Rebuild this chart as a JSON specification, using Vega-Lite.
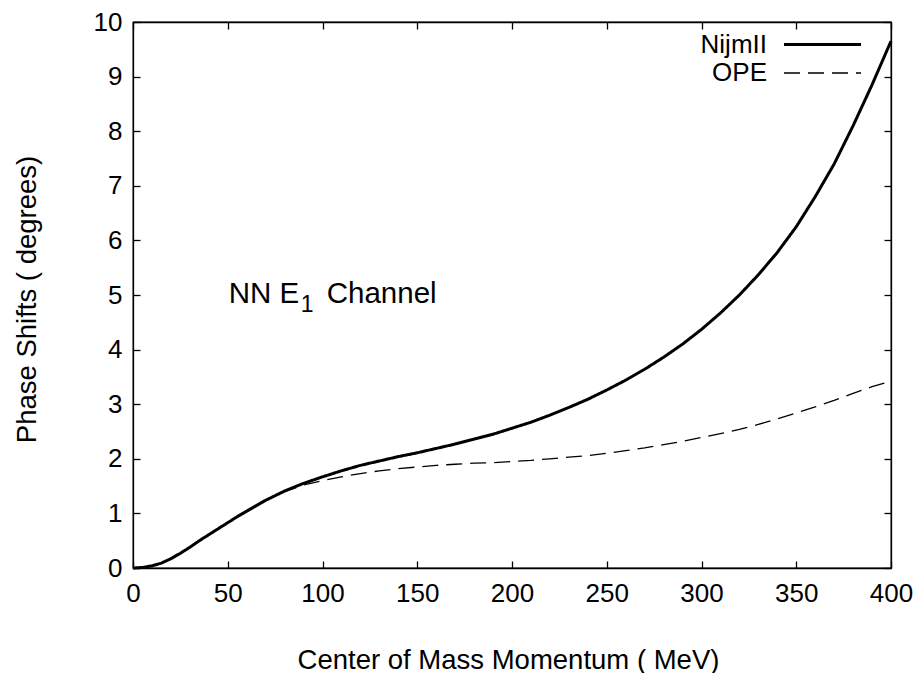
{
  "$schema": "https://vega.github.io/schema/vega-lite/v6.json",
  "width": 758,
  "height": 546,
  "autosize": "none",
  "padding": {"left": 133, "top": 22, "right": 32, "bottom": 105},
  "background": "white",
  "config": {
    "font": "Liberation Sans",
    "view": {"stroke": "black", "strokeWidth": 1.3},
    "axis": {
      "grid": false,
      "domainColor": "black",
      "domainWidth": 1.3,
      "tickColor": "black",
      "tickWidth": 1.3,
      "tickSize": -7,
      "labelColor": "black",
      "labelFont": "Liberation Sans",
      "labelFontSize": 26,
      "labelFlush": false,
      "titleColor": "black",
      "titleFont": "Liberation Sans",
      "titleFontSize": 27.5,
      "titleFontWeight": "normal"
    },
    "legend": {
      "orient": "none",
      "legendX": 674,
      "legendY": 7,
      "padding": 0,
      "rowPadding": 0,
      "symbolType": "M-2.75,0H2.75",
      "symbolSize": 784,
      "symbolStrokeColor": "black",
      "symbolFillColor": "transparent",
      "labelFont": "Liberation Sans",
      "labelFontSize": 26,
      "labelColor": "black",
      "labelAlign": "right",
      "labelOffset": -71,
      "title": null
    }
  },
  "datasets": {
    "curves": [
      {"p": 0, "delta": 0, "model": "NijmII"},
      {"p": 5, "delta": 0.01, "model": "NijmII"},
      {"p": 10, "delta": 0.04, "model": "NijmII"},
      {"p": 15, "delta": 0.09, "model": "NijmII"},
      {"p": 20, "delta": 0.17, "model": "NijmII"},
      {"p": 25, "delta": 0.27, "model": "NijmII"},
      {"p": 30, "delta": 0.38, "model": "NijmII"},
      {"p": 35, "delta": 0.5, "model": "NijmII"},
      {"p": 40, "delta": 0.61, "model": "NijmII"},
      {"p": 45, "delta": 0.72, "model": "NijmII"},
      {"p": 50, "delta": 0.83, "model": "NijmII"},
      {"p": 55, "delta": 0.94, "model": "NijmII"},
      {"p": 60, "delta": 1.04, "model": "NijmII"},
      {"p": 70, "delta": 1.24, "model": "NijmII"},
      {"p": 80, "delta": 1.41, "model": "NijmII"},
      {"p": 90, "delta": 1.55, "model": "NijmII"},
      {"p": 100, "delta": 1.67, "model": "NijmII"},
      {"p": 110, "delta": 1.78, "model": "NijmII"},
      {"p": 120, "delta": 1.88, "model": "NijmII"},
      {"p": 130, "delta": 1.96, "model": "NijmII"},
      {"p": 140, "delta": 2.04, "model": "NijmII"},
      {"p": 150, "delta": 2.11, "model": "NijmII"},
      {"p": 160, "delta": 2.19, "model": "NijmII"},
      {"p": 170, "delta": 2.27, "model": "NijmII"},
      {"p": 180, "delta": 2.36, "model": "NijmII"},
      {"p": 190, "delta": 2.45, "model": "NijmII"},
      {"p": 200, "delta": 2.56, "model": "NijmII"},
      {"p": 210, "delta": 2.67, "model": "NijmII"},
      {"p": 220, "delta": 2.8, "model": "NijmII"},
      {"p": 230, "delta": 2.94, "model": "NijmII"},
      {"p": 240, "delta": 3.09, "model": "NijmII"},
      {"p": 250, "delta": 3.26, "model": "NijmII"},
      {"p": 260, "delta": 3.44, "model": "NijmII"},
      {"p": 270, "delta": 3.64, "model": "NijmII"},
      {"p": 280, "delta": 3.86, "model": "NijmII"},
      {"p": 290, "delta": 4.1, "model": "NijmII"},
      {"p": 300, "delta": 4.37, "model": "NijmII"},
      {"p": 310, "delta": 4.67, "model": "NijmII"},
      {"p": 320, "delta": 5.0, "model": "NijmII"},
      {"p": 330, "delta": 5.37, "model": "NijmII"},
      {"p": 340, "delta": 5.78, "model": "NijmII"},
      {"p": 350, "delta": 6.25, "model": "NijmII"},
      {"p": 360, "delta": 6.8, "model": "NijmII"},
      {"p": 370, "delta": 7.4, "model": "NijmII"},
      {"p": 380, "delta": 8.1, "model": "NijmII"},
      {"p": 390, "delta": 8.85, "model": "NijmII"},
      {"p": 400, "delta": 9.65, "model": "NijmII"},
      {"p": 0, "delta": 0, "model": "OPE"},
      {"p": 5, "delta": 0.01, "model": "OPE"},
      {"p": 10, "delta": 0.04, "model": "OPE"},
      {"p": 15, "delta": 0.09, "model": "OPE"},
      {"p": 20, "delta": 0.17, "model": "OPE"},
      {"p": 25, "delta": 0.27, "model": "OPE"},
      {"p": 30, "delta": 0.38, "model": "OPE"},
      {"p": 35, "delta": 0.5, "model": "OPE"},
      {"p": 40, "delta": 0.61, "model": "OPE"},
      {"p": 45, "delta": 0.72, "model": "OPE"},
      {"p": 50, "delta": 0.83, "model": "OPE"},
      {"p": 55, "delta": 0.94, "model": "OPE"},
      {"p": 60, "delta": 1.04, "model": "OPE"},
      {"p": 70, "delta": 1.24, "model": "OPE"},
      {"p": 80, "delta": 1.4, "model": "OPE"},
      {"p": 90, "delta": 1.52, "model": "OPE"},
      {"p": 100, "delta": 1.6, "model": "OPE"},
      {"p": 110, "delta": 1.67, "model": "OPE"},
      {"p": 120, "delta": 1.73, "model": "OPE"},
      {"p": 130, "delta": 1.78, "model": "OPE"},
      {"p": 140, "delta": 1.82, "model": "OPE"},
      {"p": 150, "delta": 1.85, "model": "OPE"},
      {"p": 160, "delta": 1.88, "model": "OPE"},
      {"p": 170, "delta": 1.9, "model": "OPE"},
      {"p": 180, "delta": 1.92, "model": "OPE"},
      {"p": 190, "delta": 1.93, "model": "OPE"},
      {"p": 200, "delta": 1.95, "model": "OPE"},
      {"p": 210, "delta": 1.97, "model": "OPE"},
      {"p": 220, "delta": 2.0, "model": "OPE"},
      {"p": 230, "delta": 2.03, "model": "OPE"},
      {"p": 240, "delta": 2.06, "model": "OPE"},
      {"p": 250, "delta": 2.1, "model": "OPE"},
      {"p": 260, "delta": 2.15, "model": "OPE"},
      {"p": 270, "delta": 2.2, "model": "OPE"},
      {"p": 280, "delta": 2.26, "model": "OPE"},
      {"p": 290, "delta": 2.32, "model": "OPE"},
      {"p": 300, "delta": 2.39, "model": "OPE"},
      {"p": 310, "delta": 2.46, "model": "OPE"},
      {"p": 320, "delta": 2.54, "model": "OPE"},
      {"p": 330, "delta": 2.63, "model": "OPE"},
      {"p": 340, "delta": 2.73, "model": "OPE"},
      {"p": 350, "delta": 2.84, "model": "OPE"},
      {"p": 360, "delta": 2.95, "model": "OPE"},
      {"p": 370, "delta": 3.07, "model": "OPE"},
      {"p": 380, "delta": 3.2, "model": "OPE"},
      {"p": 390, "delta": 3.32, "model": "OPE"},
      {"p": 398, "delta": 3.4, "model": "OPE"}
    ],
    "notes": [
      {"p": 50.5, "delta": 4.85, "head": "NN E", "sub": "1", "tail": "Channel"}
    ]
  },
  "layer": [
    {
      "layer": [
        {
          "data": {"name": "curves"},
          "mark": {"type": "line", "color": "black", "strokeCap": "butt", "strokeJoin": "round"},
          "encoding": {
            "x": {
              "field": "p", "type": "quantitative",
              "scale": {"domain": [0, 400], "nice": false, "zero": false},
              "axis": {
                "values": [0, 50, 100, 150, 200, 250, 300, 350, 400],
                "labelPadding": 19,
                "title": "Center of Mass Momentum ( MeV)",
                "titleAlign": "center",
                "titleBaseline": "alphabetic",
                "titleX": 375,
                "titleY": 100
              }
            },
            "y": {
              "field": "delta", "type": "quantitative",
              "scale": {"domain": [0, 10], "nice": false, "zero": false},
              "axis": {
                "values": [0, 1, 2, 3, 4, 5, 6, 7, 8, 9, 10],
                "labelPadding": 18,
                "title": "Phase Shifts ( degrees)",
                "titleAngle": 270,
                "titleAlign": "center",
                "titleBaseline": "alphabetic",
                "titleX": -98,
                "titleY": 277
              }
            },
            "strokeDash": {
              "field": "model", "type": "ordinal",
              "scale": {"domain": ["NijmII", "OPE"], "range": [[1, 0], [16, 8]]}
            },
            "strokeWidth": {
              "field": "model", "type": "ordinal",
              "scale": {"domain": ["NijmII", "OPE"], "range": [3, 1.3]}
            }
          }
        },
        {
          "data": {"name": "notes"},
          "encoding": {
            "x": {"field": "p", "type": "quantitative"},
            "y": {"field": "delta", "type": "quantitative"}
          },
          "layer": [
            {
              "mark": {"type": "text", "align": "left", "baseline": "alphabetic", "fontSize": 29.5, "font": "Liberation Sans", "color": "black"},
              "encoding": {"text": {"field": "head"}}
            },
            {
              "mark": {"type": "text", "align": "left", "baseline": "alphabetic", "fontSize": 23, "font": "Liberation Sans", "color": "black", "dx": 72, "dy": 9},
              "encoding": {"text": {"field": "sub"}}
            },
            {
              "mark": {"type": "text", "align": "left", "baseline": "alphabetic", "fontSize": 29.5, "font": "Liberation Sans", "color": "black", "dx": 98},
              "encoding": {"text": {"field": "tail"}}
            }
          ]
        }
      ]
    },
    {
      "data": {"name": "curves"},
      "mark": {"type": "point", "opacity": 0},
      "encoding": {
        "x": {
          "field": "p", "type": "quantitative",
          "scale": {"domain": [0, 400], "nice": false, "zero": false},
          "axis": {"orient": "top", "values": [0, 50, 100, 150, 200, 250, 300, 350, 400], "labels": false, "title": null}
        },
        "y": {
          "field": "delta", "type": "quantitative",
          "scale": {"domain": [0, 10], "nice": false, "zero": false},
          "axis": {"orient": "right", "values": [0, 1, 2, 3, 4, 5, 6, 7, 8, 9, 10], "labels": false, "title": null}
        }
      }
    }
  ],
  "resolve": {"scale": {"x": "independent", "y": "independent"}}
}
